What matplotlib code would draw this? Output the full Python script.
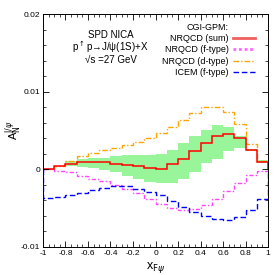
import numpy as np
import matplotlib
matplotlib.use("Agg")
import matplotlib.pyplot as plt
from matplotlib.lines import Line2D

plt.rcParams['font.family'] = ['Liberation Sans', 'DejaVu Sans']

# bin edges in x_F
edges = np.round(np.arange(-1.0, 1.0001, 0.1), 2)

# CGI-GPM predictions per bin
nrqcd_sum = [0.0, 0.0004, 0.0007, 0.001, 0.001, 0.0009, 0.0007, 0.0006, 0.0004, 0.0002,
             0.0001, 0.0007, 0.0013, 0.0024, 0.0034, 0.0043, 0.0045, 0.004, 0.0025, 0.001]
band_hi = [0.0, 0.0004, 0.0011, 0.0013, 0.0014, 0.0015, 0.0017, 0.0018, 0.0018, 0.0018,
           0.002, 0.0025, 0.0034, 0.0043, 0.0051, 0.0057, 0.0055, 0.0043, 0.0026, 0.0012]
band_lo = [0.0, 0.0004, 0.0004, 0.0003, 0.0002, -0.0001, -0.0004, -0.0008, -0.0012, -0.0016,
           -0.0018, -0.0018, -0.0013, -0.0004, 0.0008, 0.0013, 0.0023, 0.0027, 0.0024, 0.0008]
nrqcd_f = [0.0, -0.0002, -0.0004, -0.0008, -0.0012, -0.0015, -0.002, -0.0025, -0.0031, -0.0038,
           -0.0045, -0.005, -0.0052, -0.0051, -0.0046, -0.0038, -0.0028, -0.0018, -0.0007, -0.0002]
nrqcd_d = [0.0, 0.0004, 0.0011, 0.0017, 0.0021, 0.0025, 0.0028, 0.0031, 0.0035, 0.004,
           0.0047, 0.0055, 0.0064, 0.0073, 0.008, 0.008, 0.0074, 0.0058, 0.0033, 0.0011]
icem_f = [-0.0037, -0.0036, -0.0033, -0.003, -0.0027, -0.0024, -0.0022, -0.0022, -0.0025, -0.0029,
          -0.0033, -0.0041, -0.0048, -0.0055, -0.006, -0.0064, -0.0065, -0.0061, -0.0052, -0.0038]

fig = plt.figure(figsize=(2.75, 2.75), dpi=100)
ax = fig.add_axes([0.156, 0.102, 0.819, 0.847])

ax.stairs(band_hi, edges, baseline=band_lo, fill=True, color='#99f599', lw=0)
ax.stairs(nrqcd_d, edges, color='#ffa500', lw=1.0, ls=(0, (4, 1.5, 1, 1.5)))
ax.stairs(nrqcd_f, edges, color='#ff44ff', lw=1.0, ls=(0, (3, 1.5, 1, 1.5)))
ax.stairs(icem_f, edges, color='#0000ff', lw=1.0, ls=(0, (4, 2)))
ax.stairs(nrqcd_sum, edges, color='#ff0000', lw=1.1)

ax.set_xlim(-1, 1)
ax.set_ylim(-0.01, 0.02)
ax.set_xticks(np.round(np.arange(-1, 1.01, 0.2), 1))
ax.set_xticklabels(['-1', '-0.8', '-0.6', '-0.4', '-0.2', '0', '0.2', '0.4', '0.6', '0.8', '1'])
ax.set_xticks(np.arange(-1, 1.001, 0.05), minor=True)
ax.set_yticks([-0.01, 0, 0.01, 0.02])
ax.set_yticklabels(['-0.01', '0', '0.01', '0.02'])
ax.set_yticks(np.arange(-0.01, 0.0201, 0.002), minor=True)
ax.tick_params(which='both', direction='in', top=True, right=True, labelsize=6, pad=2)
ax.tick_params(which='major', length=4, width=0.6)
ax.tick_params(which='minor', length=2, width=0.5)
for s in ax.spines.values():
    s.set_linewidth(0.7)

ax.set_xlabel(r'x$_{\mathrm{F}\psi}$', fontsize=9, labelpad=2)
ax.set_ylabel(r'A$_\mathrm{N}^{\mathrm{J}/\psi}$', fontsize=8, labelpad=-2)

ax.text(-0.40, 0.0173, 'SPD NICA', ha='center', va='center', fontsize=7)
ax.text(-0.40, 0.0158, r'p$^\uparrow$p→J/ψ(1S)+X', ha='center', va='center', fontsize=7)
ax.text(-0.40, 0.0141, '√s =27 GeV', ha='center', va='center', fontsize=7)

handles = [Line2D([], [], color='none'),
           Line2D([], [], color='#f06060', lw=2),
           Line2D([], [], color='#ff66ff', lw=2, ls=(0, (1, 1))),
           Line2D([], [], color='#ffa500', lw=1, ls=(0, (4, 1.5, 1, 1.5))),
           Line2D([], [], color='#0000ff', lw=1, ls=(0, (4, 2)))]
labels = ['CGI-GPM:', 'NRQCD (sum)', 'NRQCD (f-type)', 'NRQCD (d-type)', 'ICEM (f-type)']
leg = ax.legend(handles, labels, loc='upper right', bbox_to_anchor=(0.965, 0.985),
                frameon=False, fontsize=6.5, markerfirst=False, handlelength=2.4,
                handletextpad=0.5, labelspacing=0.25, borderaxespad=0.2)
for t in leg.get_texts():
    t.set_ha('right')

fig.savefig('out.png', dpi=100)
